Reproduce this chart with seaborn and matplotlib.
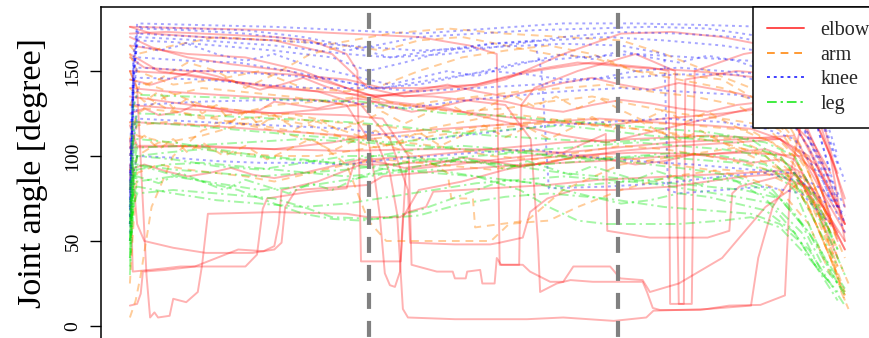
import numpy as np
import pandas as pd
import matplotlib
matplotlib.use("Agg")
import matplotlib.pyplot as plt
import seaborn as sns
from matplotlib.lines import Line2D

# Tiempo normalizado (%) y ángulo articular (grados)
elbow_time = [
    [0, 1, 2.3, 2.8, 3.4, 3.9, 5.5, 6, 7.8, 9.4, 10, 10.8, 20, 30, 33, 37.4, 38.5, 41, 42, 50, 58, 65, 75, 85, 92, 96, 98],
    [0, 1, 2, 6, 10.5, 17, 20, 21, 21.5, 23, 30, 33, 35, 40, 45, 55, 65, 75, 85, 93, 97, 99],
    [0, 0.4, 5, 7, 16, 17.6, 18.4, 19, 22, 25, 30, 31, 33, 40, 50, 60, 70, 80, 90, 95, 98],
    [0, 10, 20, 30, 34, 36, 37, 37.8, 38.5, 45, 55, 60, 67, 71.5, 72.5, 80, 86, 87, 89, 92, 97],
    [0, 5, 10, 15, 20, 25, 30, 31.5, 32, 37.5, 37.8, 38.2, 45, 55, 65, 75, 85, 92, 96, 99],
    [0, 5, 12, 20, 26, 30, 33, 33.9, 34.6, 35.3, 36, 36.7, 37.4, 37.8, 40, 46, 52, 60, 68, 76, 84, 90, 95, 98],
    [0, 4, 10, 18, 26, 32, 36, 38.5, 38.8, 45, 49.9, 51.2, 54.4, 55.4, 57.8, 61.4, 67, 75, 85, 92, 96, 99],
    [0, 6, 14, 22, 30, 35, 38.6, 39, 42.5, 44.7, 45, 46.5, 46.7, 48.5, 48.8, 50.5, 50.8, 51.4, 54.4, 55.4, 58.2, 60, 61.4, 66.5, 67.9, 71, 72, 76, 82, 88, 93, 97],
    [0, 8, 20, 32, 42, 52, 55.5, 56.5, 56.8, 59.1, 61, 64.1, 71, 71.6, 72.4, 73.4, 79, 83, 87.3, 90.7, 91.5, 93, 97],
    [0, 10, 20, 30, 40, 47, 50.8, 51.2, 53.9, 54.2, 56, 62, 70, 75.5, 76, 77.8, 78.2, 85, 92, 96, 99],
    [0, 10, 20, 30, 40, 50, 60, 65.9, 66.1, 72, 80, 83, 83.4, 84.4, 90, 95, 98],
    [0, 8, 16, 24, 30, 34, 40, 48, 56, 64, 72, 74.6, 74.8, 76.7, 76.9, 84, 90, 94, 97, 99],
    [0, 1, 1.5, 1.8, 5, 9, 12, 15, 18.5, 20, 20.6, 21, 26, 32, 36, 42, 50, 60, 70, 80, 88, 92, 96, 99],
    [0, 3, 10, 20, 28, 33, 38, 45, 52, 60, 68, 75, 82, 88, 92, 95, 98],
    [0, 2, 8, 15, 22, 30, 35, 40, 48, 55, 62, 70, 78, 85, 90, 94, 97, 99],
    [0, 1, 6, 12, 20, 28, 33, 40, 50, 58, 65, 72, 80, 86, 90, 94, 97],
    [0, 5, 12, 20, 28, 34, 42, 50, 58, 66, 74, 82, 88, 93, 96, 99],
    [0, 3, 8, 14, 22, 30, 36, 44, 52, 60, 66, 72, 80, 86, 90, 94, 97],
    [0, 2, 4, 7, 9, 12, 15, 18, 20, 23, 26, 29, 31, 33, 36, 39, 42, 45, 48, 52, 56, 60, 64, 68, 72, 76, 80, 84, 88, 91, 94, 97, 99],
    [0, 2, 5, 8, 11, 14, 17, 20, 24, 28, 32, 35, 38, 42, 46, 50, 54, 58, 62, 66, 70, 74, 78, 82, 86, 90, 93, 96, 99],
    [0, 3, 6, 9, 12, 15, 18, 21, 24, 27, 30, 33, 36, 40, 44, 48, 52, 56, 60, 64, 68, 72, 76, 80, 84, 88, 92, 95, 98],
]
elbow_angle = [
    [150, 140, 30, 5, 8, 5, 6, 16, 14, 20, 36, 66, 67, 66, 64, 64, 67, 70, 79, 81, 83, 86, 88, 90, 92, 60, 40],
    [110, 60, 50, 46, 43, 43, 45, 49, 70, 80, 82, 83, 88, 90, 92, 95, 97, 100, 102, 100, 70, 55],
    [95, 32, 34, 35, 35, 42, 69, 75, 77, 79, 81, 95, 98, 100, 104, 108, 110, 112, 110, 90, 50],
    [120, 118, 115, 112, 110, 90, 66, 10, 5, 4, 4, 5, 3, 5, 9, 10, 12, 40, 70, 90, 60],
    [172, 173, 172, 171, 170, 168, 160, 150, 38, 38, 60, 92, 95, 100, 104, 108, 110, 112, 80, 60],
    [140, 138, 136, 134, 133, 130, 110, 87, 65, 31, 24, 23, 32, 64, 80, 85, 92, 98, 103, 106, 108, 110, 95, 70],
    [160, 150, 146, 142, 138, 130, 110, 80, 49, 48, 48, 49, 52, 67, 75, 80, 80, 82, 88, 90, 70, 45],
    [130, 128, 126, 125, 124, 122, 100, 36, 32, 32, 28, 28, 32, 33, 25, 25, 40, 36, 36, 32, 26, 26, 35, 35, 28, 27, 20, 25, 40, 70, 85, 55],
    [150, 148, 140, 136, 135, 130, 110, 50, 20, 25, 27, 26, 26, 20, 10.6, 9.4, 9.4, 12, 12.4, 18, 90, 120, 90],
    [176, 175, 174, 172, 170, 165, 160, 36, 36, 130, 140, 150, 160, 150, 13, 13, 150, 160, 165, 120, 70],
    [105, 106, 104, 103, 104, 104, 102, 113, 56, 52, 52, 56, 78, 82, 88, 80, 55],
    [165, 160, 158, 150, 140, 135, 138, 142, 150, 155, 152, 150, 13, 13, 145, 150, 148, 140, 100, 50],
    [12, 13, 19, 32, 33, 35, 40, 45, 44, 47, 60, 80, 85, 95, 95, 97, 96, 100, 102, 101, 104, 98, 70, 45],
    [176, 172, 170, 168, 160, 140, 135, 138, 145, 160, 172, 173, 170, 165, 150, 120, 90],
    [158, 152, 150, 150, 148, 145, 140, 140, 142, 150, 155, 152, 150, 147, 145, 130, 100, 75],
    [118, 106, 106, 105, 104, 108, 112, 115, 118, 120, 122, 120, 118, 116, 110, 100, 65],
    [135, 132, 128, 125, 128, 132, 128, 124, 120, 118, 122, 125, 128, 124, 95, 60],
    [170, 164, 158, 154, 150, 140, 132, 128, 120, 112, 108, 114, 122, 128, 126, 110, 85],
    [125, 128, 124, 126, 130, 128, 125, 127, 132, 130, 128, 131, 134, 133, 129, 126, 128, 131, 134, 132, 128, 126, 130, 133, 131, 128, 126, 130, 132, 125, 105, 80, 60],
    [92, 95, 91, 88, 90, 93, 89, 87, 90, 94, 98, 96, 93, 95, 99, 97, 94, 96, 100, 98, 95, 97, 101, 99, 96, 98, 90, 70, 50],
    [145, 142, 146, 150, 147, 143, 139, 142, 146, 141, 137, 134, 136, 139, 142, 138, 135, 139, 143, 146, 142, 139, 143, 140, 137, 133, 120, 95, 70],
]

arm_time = [
    [0, 0.8, 1.5, 3, 6, 10, 14, 18, 22, 28, 33, 38, 44, 50, 56, 62, 70, 78, 86, 92, 96, 98.5, 99.5],
    [0, 2, 8, 14, 20, 26, 30, 33, 35.5, 40, 46, 50, 52.5, 55, 58, 62, 68, 75, 82, 88, 93, 97, 99],
    [0, 4, 10, 18, 26, 33, 40, 44, 44.5, 47.5, 47.8, 55, 60, 68, 76, 84, 90, 95, 98],
    [0, 1, 4, 8, 12, 16, 20, 25, 30, 35, 40, 46, 52, 58, 64, 70, 76, 82, 88, 92, 95, 98, 99.5],
    [0, 1, 5, 10, 15, 22, 30, 36, 42, 48, 54, 60, 66, 72, 78, 84, 90, 94, 97],
    [0, 1, 5, 10, 16, 22, 28, 34, 40, 46, 52, 58, 64, 70, 76, 82, 88, 92, 95, 98],
    [0, 1, 6, 12, 18, 24, 30, 34, 40, 46, 52, 58, 64, 70, 76, 82, 88, 93, 96, 99],
    [0, 1, 4, 9, 14, 20, 26, 32, 38, 44, 50, 56, 62, 68, 74, 80, 86, 91, 94, 97, 99],
    [0, 1, 5, 10, 15, 20, 26, 32, 38, 45, 52, 58, 64, 70, 76, 82, 88, 92, 95, 98],
    [0, 0.5, 1, 4, 8, 12, 16, 20, 25, 30, 35, 40, 45, 50, 55, 60, 65, 70, 75, 80, 85, 90, 94, 97],
    [0, 1, 6, 12, 20, 28, 36, 44, 52, 60, 68, 74, 80, 86, 91, 95, 98],
    [0, 1, 5, 10, 15, 20, 25, 30, 34, 38, 42, 48, 54, 60, 66, 72, 78, 84, 89, 93, 96, 99],
    [0, 2, 4, 6, 8, 10, 12, 14, 16, 18, 20, 23, 26, 29, 32, 35, 38, 41, 44, 47, 50, 53, 56, 59, 62, 65, 68, 71, 74, 77, 80, 83, 86, 89, 92, 95, 98],
    [0, 2, 4, 6, 8, 10, 13, 16, 19, 22, 25, 28, 31, 34, 37, 40, 43, 46, 49, 52, 55, 58, 61, 64, 67, 70, 73, 76, 79, 82, 85, 88, 91, 94, 97, 99],
]
arm_angle = [
    [5, 15, 30, 70, 100, 115, 120, 118, 115, 112, 110, 112, 115, 118, 120, 122, 120, 118, 115, 100, 60, 20, 10],
    [130, 128, 125, 120, 115, 108, 95, 62, 50, 50, 50, 50, 60, 61, 62, 70, 80, 88, 92, 90, 80, 40, 18],
    [145, 140, 130, 125, 120, 110, 100, 90, 75, 75, 58, 62, 80, 95, 100, 105, 100, 70, 35],
    [150, 140, 145, 155, 150, 140, 148, 160, 165, 162, 168, 170, 165, 160, 158, 150, 145, 140, 130, 110, 80, 40, 25],
    [110, 125, 135, 140, 138, 135, 130, 128, 132, 135, 138, 140, 142, 138, 135, 130, 115, 90, 60],
    [100, 118, 120, 118, 122, 125, 120, 118, 115, 120, 125, 122, 118, 116, 112, 108, 100, 85, 60, 30],
    [160, 150, 142, 145, 150, 140, 138, 140, 150, 158, 162, 165, 160, 150, 148, 145, 130, 100, 70, 40],
    [80, 100, 108, 105, 102, 100, 100, 104, 108, 105, 100, 98, 102, 106, 104, 100, 95, 88, 70, 40, 15],
    [130, 138, 128, 122, 125, 130, 132, 135, 130, 126, 128, 132, 135, 130, 125, 122, 118, 100, 75, 45],
    [25, 60, 90, 95, 92, 90, 88, 85, 90, 95, 98, 96, 94, 92, 95, 98, 100, 98, 95, 92, 88, 80, 60, 30],
    [165, 160, 165, 170, 168, 166, 172, 175, 172, 170, 168, 160, 150, 140, 120, 90, 50],
    [120, 112, 108, 112, 118, 122, 118, 110, 105, 108, 112, 115, 118, 120, 118, 115, 112, 110, 100, 85, 55, 20],
    [140, 132, 138, 128, 134, 125, 130, 120, 126, 118, 124, 116, 122, 115, 120, 126, 119, 125, 131, 124, 130, 136, 129, 135, 128, 134, 127, 121, 127, 120, 126, 119, 113, 108, 95, 70, 35],
    [105, 112, 104, 110, 102, 108, 100, 106, 98, 104, 110, 103, 109, 115, 108, 114, 106, 112, 118, 111, 117, 110, 116, 123, 116, 122, 115, 109, 115, 108, 102, 96, 90, 70, 40, 18],
]

knee_time = [
    [0, 0.5, 1, 10, 20, 30, 40, 50, 60, 70, 80, 88, 92, 95, 98],
    [0, 0.6, 1.2, 8, 16, 24, 30, 34, 40, 48, 56, 64, 72, 80, 88, 93, 96, 99],
    [0, 0.5, 1, 6, 12, 20, 28, 33, 38, 44, 50, 58, 66, 74, 82, 90, 94, 97],
    [0, 0.5, 1.2, 8, 15, 22, 28, 34, 40, 47, 54, 62, 70, 78, 86, 91, 95, 98],
    [0, 0.6, 1.5, 10, 18, 25, 30, 35, 42, 50, 55, 60, 68, 76, 84, 90, 94, 97, 99],
    [0, 0.5, 1, 10, 20, 30, 33, 38, 45, 52, 60, 68, 76, 84, 90, 94, 97],
    [0, 0.5, 1, 6, 12, 18, 24, 30, 36, 42, 48, 56, 62, 70, 78, 86, 92, 96, 99],
    [0, 0.5, 1, 10, 20, 30, 36, 42, 50, 56, 57, 58, 66, 74, 82, 88, 93, 97],
    [0, 0.5, 1, 8, 16, 24, 30, 36, 44, 52, 60, 68, 76, 84, 90, 94, 98],
    [0, 0.5, 1, 10, 20, 28, 34, 40, 48, 56, 64, 70, 76, 82, 88, 92, 96, 99],
    [0, 0.5, 1, 10, 20, 30, 36, 42, 50, 58, 66, 74, 82, 88, 92, 96, 99],
    [0, 0.5, 1, 10, 20, 30, 40, 50, 60, 68, 74, 74.5, 76, 82, 88, 93, 97],
    [0, 0.5, 1, 4, 8, 12, 16, 20, 24, 28, 32, 36, 40, 44, 48, 52, 56, 60, 64, 68, 72, 76, 80, 84, 88, 92, 95, 98],
]
knee_angle = [
    [60, 140, 178, 177, 176, 174, 172, 175, 178, 178, 177, 176, 170, 140, 100],
    [80, 150, 175, 174, 172, 168, 162, 165, 170, 172, 174, 175, 176, 175, 170, 150, 120, 85],
    [100, 155, 168, 167, 165, 162, 158, 150, 155, 162, 166, 168, 170, 168, 165, 160, 135, 90],
    [70, 140, 158, 156, 155, 150, 145, 140, 142, 148, 155, 158, 160, 158, 156, 150, 120, 75],
    [90, 130, 146, 145, 142, 140, 140, 140, 145, 150, 148, 145, 146, 148, 148, 140, 110, 85, 60],
    [50, 110, 130, 132, 133, 132, 130, 128, 132, 135, 138, 140, 138, 136, 130, 105, 75],
    [55, 90, 100, 99, 97, 96, 96, 95, 98, 100, 102, 104, 100, 97, 95, 92, 90, 80, 65],
    [75, 150, 170, 168, 165, 160, 158, 162, 166, 168, 150, 81, 82, 84, 88, 90, 85, 70],
    [65, 160, 176, 175, 174, 170, 165, 158, 160, 165, 170, 173, 172, 170, 165, 140, 95],
    [85, 140, 152, 150, 148, 145, 140, 138, 140, 142, 145, 150, 152, 150, 148, 130, 95, 70],
    [60, 110, 122, 120, 118, 116, 112, 110, 114, 118, 120, 122, 120, 116, 110, 85, 55],
    [70, 155, 172, 170, 168, 165, 162, 164, 166, 165, 160, 80, 78, 80, 82, 78, 60],
    [60, 150, 165, 162, 166, 160, 156, 160, 154, 150, 146, 142, 146, 150, 147, 152, 156, 160, 157, 162, 158, 155, 159, 156, 150, 130, 100, 70],
]

leg_time = [
    [0, 0.5, 1, 6, 12, 18, 24, 30, 36, 42, 48, 54, 60, 66, 72, 78, 84, 89, 93, 96, 99],
    [0, 0.5, 1, 5, 10, 16, 22, 28, 34, 40, 46, 52, 58, 64, 70, 76, 82, 88, 92, 95, 98],
    [0, 0.5, 1, 6, 12, 20, 24, 28, 34, 40, 46, 52, 58, 66, 74, 80, 86, 90, 94, 97, 99],
    [0, 0.5, 1, 8, 16, 24, 30, 36, 42, 48, 54, 60, 66, 72, 78, 84, 90, 94, 97],
    [0, 0.5, 1, 6, 12, 18, 24, 30, 36, 42, 48, 54, 60, 66, 72, 78, 84, 88, 92, 95, 98],
    [0, 0.5, 1, 8, 16, 24, 32, 38, 44, 50, 56, 62, 68, 74, 80, 86, 91, 95, 98],
    [0, 0.5, 1, 5, 10, 15, 20, 25, 30, 35, 40, 45, 50, 55, 60, 65, 70, 75, 80, 85, 90, 94, 97, 99],
    [0, 0.5, 1, 6, 12, 18, 24, 30, 36, 42, 48, 54, 58, 62, 66, 70, 76, 82, 86, 90, 94, 97],
    [0, 0.5, 1, 8, 16, 24, 32, 40, 46, 52, 58, 64, 70, 76, 82, 88, 92, 95, 98],
    [0, 0.5, 1, 6, 12, 18, 24, 30, 36, 42, 48, 54, 60, 66, 72, 78, 84, 89, 93, 96],
    [0, 0.5, 1, 10, 20, 30, 36, 42, 50, 58, 66, 74, 82, 88, 92, 95, 98],
    [0, 0.5, 1, 6, 12, 18, 24, 30, 36, 42, 48, 54, 60, 66, 72, 78, 84, 90, 94, 97, 99],
    [0, 0.5, 1, 4, 7, 10, 13, 16, 19, 22, 25, 28, 31, 34, 37, 40, 43, 46, 49, 52, 55, 58, 61, 64, 67, 70, 73, 76, 79, 82, 85, 88, 91, 94, 97, 99],
    [0, 0.5, 1, 5, 10, 15, 20, 24, 28, 32, 36, 40, 44, 48, 52, 56, 60, 64, 68, 72, 76, 80, 84, 88, 92, 95, 98],
]
leg_angle = [
    [40, 80, 95, 92, 90, 88, 90, 92, 95, 98, 100, 102, 100, 98, 95, 92, 88, 80, 60, 35, 20],
    [60, 90, 100, 102, 104, 100, 98, 96, 100, 104, 106, 104, 100, 98, 100, 102, 100, 95, 80, 50, 25],
    [50, 70, 78, 80, 78, 75, 70, 64, 63, 65, 72, 76, 78, 75, 70, 68, 66, 60, 45, 25, 12],
    [70, 110, 120, 118, 115, 112, 110, 108, 110, 114, 116, 118, 115, 112, 110, 108, 100, 80, 55],
    [30, 75, 85, 88, 84, 80, 82, 86, 90, 92, 88, 85, 82, 84, 86, 88, 85, 75, 55, 35, 15],
    [80, 130, 136, 135, 134, 133, 132, 128, 125, 124, 122, 120, 118, 116, 114, 110, 95, 70, 45],
    [45, 85, 92, 95, 96, 94, 92, 90, 88, 90, 94, 98, 96, 93, 90, 88, 86, 84, 82, 80, 75, 55, 35, 22],
    [55, 100, 110, 108, 104, 100, 98, 95, 92, 90, 88, 80, 70, 62, 60, 60, 60, 62, 64, 58, 40, 25],
    [65, 95, 105, 106, 108, 110, 108, 106, 104, 102, 104, 106, 108, 106, 104, 100, 85, 60, 35],
    [35, 70, 82, 78, 74, 72, 70, 72, 76, 80, 84, 86, 88, 86, 84, 80, 76, 72, 55, 30],
    [60, 115, 125, 124, 122, 120, 118, 115, 112, 110, 108, 110, 112, 108, 100, 75, 45],
    [50, 85, 100, 98, 94, 92, 96, 100, 100, 98, 96, 94, 96, 98, 100, 98, 96, 90, 75, 50, 30],
    [40, 82, 88, 84, 90, 85, 80, 86, 82, 78, 84, 80, 86, 91, 95, 98, 94, 99, 96, 92, 97, 93, 89, 94, 90, 86, 91, 87, 83, 88, 84, 80, 72, 55, 32, 18],
    [50, 88, 95, 90, 85, 80, 72, 66, 63, 62, 64, 68, 74, 80, 86, 84, 80, 76, 72, 74, 78, 76, 72, 68, 55, 35, 20],
]

# Límites de las fases (tiempo normalizado)
phase_bounds = [33.1, 67.6]
joints = ["elbow", "arm", "knee", "leg"]
y_ticks = [0, 50, 100, 150]

# Construir el DataFrame largo
rows = []
for joint, times, angles in [("elbow", elbow_time, elbow_angle), ("arm", arm_time, arm_angle),
                             ("knee", knee_time, knee_angle), ("leg", leg_time, leg_angle)]:
    for i, (tt, aa) in enumerate(zip(times, angles)):
        for x, y in zip(tt, aa):
            rows.append((joint, f"{joint}_{i}", x, y))
df = pd.DataFrame(rows, columns=["joint", "trial", "time", "angle"])

sns.set_theme(style="white")
plt.rcParams["font.family"] = ["Liberation Serif", "DejaVu Serif"]

styles = {
    "elbow": dict(color=(1.0, 0.0, 0.0), alpha=0.3, ls="-"),
    "arm": dict(color=(1.0, 0.5, 0.0), alpha=0.4, ls=(0, (4, 3))),
    "knee": dict(color=(0.0, 0.0, 1.0), alpha=0.35, ls=(0, (1.5, 2))),
    "leg": dict(color=(0.0, 0.9, 0.0), alpha=0.35, ls=(0, (5, 2, 1.2, 2))),
}

fig = plt.figure(figsize=(8.69, 3.38), dpi=100)
ax = fig.add_axes([101 / 869, -2 / 338, 780 / 869, 333 / 338])

for j in joints:
    st = styles[j]
    sns.lineplot(data=df[df["joint"] == j], x="time", y="angle", units="trial",
                 estimator=None, sort=False, color=st["color"], alpha=st["alpha"],
                 linestyle=st["ls"], lw=1.4, ax=ax, legend=False)

ylo, yhi = -8.24, 187.65
for b in phase_bounds:
    ax.plot([b, b], [yhi, ylo], color="grey", lw=3, ls=(5.3, (3.84, 2.88)), zorder=5)

ax.set_xlim(-4, 104)
ax.set_ylim(ylo, yhi)
ax.set_xticks([])
ax.set_yticks(y_ticks)
ax.set_yticklabels([str(v) for v in y_ticks], rotation=90, va="center", fontsize=14)
ax.tick_params(axis="y", left=True, length=8, width=1, color="black", pad=6, labelcolor="black")
ax.set_xlabel("")
ax.set_ylabel("Joint angle [degree]", fontsize=24.5, labelpad=12, color="black")
for s in ax.spines.values():
    s.set_color("black")
    s.set_linewidth(1.1)

handles = [Line2D([], [], color=styles[j]["color"], alpha=min(styles[j]["alpha"] + 0.4, 1),
                  ls=styles[j]["ls"], lw=1.4) for j in joints]
leg = ax.legend(handles, joints, loc="upper left", bbox_to_anchor=(0.836, 1.0),
                borderaxespad=0, fancybox=False, framealpha=1, edgecolor="black",
                fontsize=14.5, handlelength=1.85, handletextpad=0.8, labelspacing=0.27,
                borderpad=0.7)
leg.get_frame().set_linewidth(1.1)
leg.set_zorder(10)

fig.savefig("out.png", dpi=100)
